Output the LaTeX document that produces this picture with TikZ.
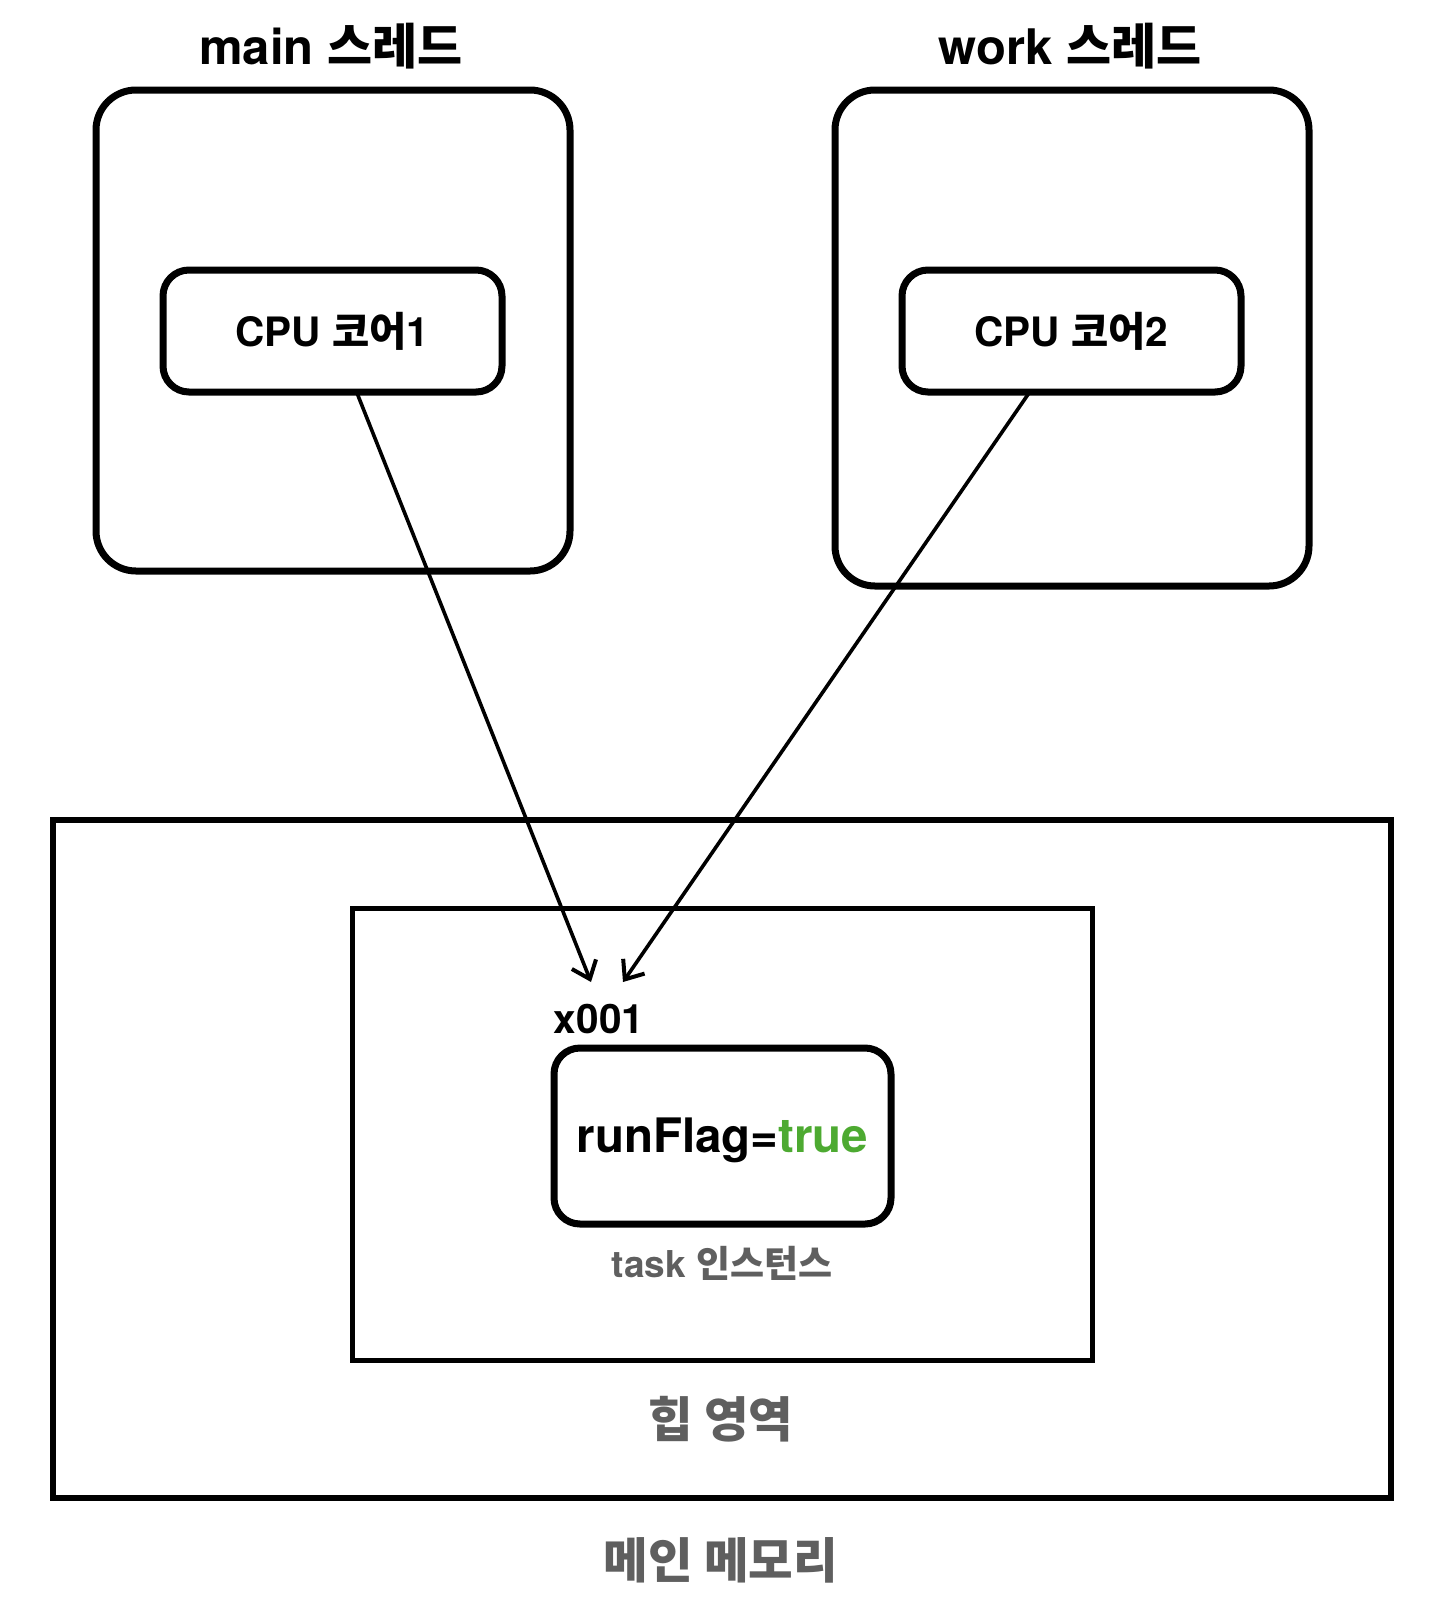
\documentclass[tikz,border=0pt]{standalone}
\usepackage{fontspec}
\setmainfont{TeX Gyre Heros}
\newfontfamily\kr{Noto Sans CJK KR}
\usetikzlibrary{arrows.meta}
\definecolor{txtgray}{HTML}{5F5F5F}
\definecolor{truegreen}{HTML}{4DAA31}
\tikzset{
  threadbox/.style={draw=black, line width=7pt, rounded corners=40pt},
  corebox/.style={draw=black, line width=7pt, rounded corners=26pt},
  membox/.style={draw=black, line width=6pt},
  heapbox/.style={draw=black, line width=5pt},
  title/.style={font=\fontsize{49}{55}\selectfont\bfseries},
  coretext/.style={font=\fontsize{40.5}{47}\selectfont\bfseries},
  graylabel/.style={text=txtgray, font=\fontsize{37}{43}\selectfont\bfseries},
  biglabel/.style={text=txtgray, font=\fontsize{48.5}{54}\selectfont\bfseries},
  conn/.style={line width=3.6pt, -{Straight Barb[length=16pt,width=26pt,line width=4pt]}},
}
\begin{document}
\begin{tikzpicture}[x=1pt,y=-1pt]
\useasboundingbox (0,0) rectangle (1452,1618);
% thread boxes
\draw[threadbox] (96,90) rectangle (570,571);
\draw[threadbox] (835,90) rectangle (1309,586);
\node[title] (mainlbl) at (331,46) {main {\kr 스레드}};
\node[title] (worklbl) at (1070,46) {work {\kr 스레드}};
% core boxes
\node[corebox, minimum width=339pt, minimum height=122pt, inner sep=0pt] (core1) at (332.5,331) {};
\node[coretext] at (core1.center) {CPU {\kr 코어}1};
\node[corebox, minimum width=339pt, minimum height=122pt, inner sep=0pt] (core2) at (1071.5,331) {};
\node[coretext] at (core2.center) {CPU {\kr 코어}2};
% memory
\draw[membox] (53,820) rectangle (1391,1498);
\draw[heapbox] (352,908) rectangle (1092,1360);
\node[corebox, minimum width=337pt, minimum height=176pt, inner sep=0pt] (obj) at (722.5,1136) {};
\node[font=\fontsize{47.5}{54}\selectfont\bfseries] (flag) at ([yshift=-4pt]obj.center) {runFlag={\color{truegreen}true}};
\node[coretext] (addr) at (599,1019) {x001};
\node[graylabel] (task) at (722,1263) {task {\kr 인스턴스}};
\node[biglabel] (heap) at (721,1419) {{\kr 힙 영역}};
\node[biglabel] (mem) at (721,1560) {{\kr 메인 메모리}};
% connectors
\coordinate (s1) at (357,393);
\coordinate (s2) at (1029,393);
\coordinate (t1) at (591,982);
\coordinate (t2) at (623,982);
\draw[conn] (s1) -- (t1);
\draw[conn] (s2) -- (t2);
\end{tikzpicture}
\end{document}
